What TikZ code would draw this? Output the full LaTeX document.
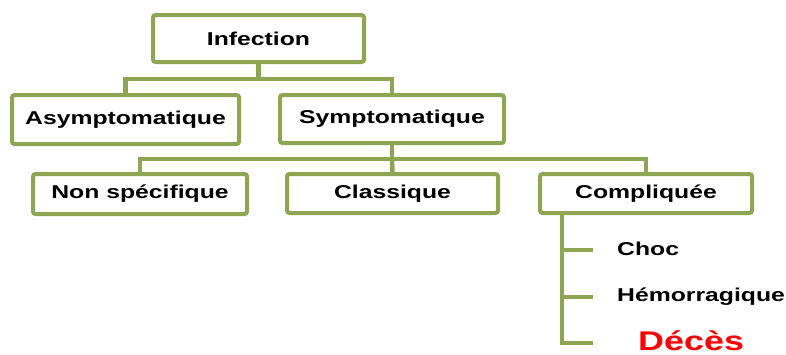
\documentclass[tikz,border=0pt]{standalone}
\usepackage{fontspec}
\setmainfont{Liberation Sans}
\newfontfamily\widefont[FakeStretch=1.33]{Liberation Sans}
\definecolor{olive}{RGB}{140,166,82}
\definecolor{deathred}{RGB}{255,0,0}
\begin{document}
\begin{tikzpicture}[x=1pt,y=-1pt,
  box/.style={draw=olive,line width=4pt,rounded corners=2.5pt,fill=white,
    inner sep=0pt,font=\widefont\bfseries\fontsize{18.6}{20}\selectfont,text=black},
  link/.style={draw=olive,line width=4.5pt},
  leaf/.style={anchor=west,inner sep=0pt,font=\widefont\bfseries\fontsize{18.6}{20}\selectfont,text=black}]
\useasboundingbox (0,0) rectangle (786,354);
% boxes
\node[box,minimum width=211pt,minimum height=47pt] (inf) at (258.5,38.5) {Infection};
\node[box,minimum width=227pt,minimum height=49pt] (asym) at (125.5,119.5) {Asymptomatique};
\node[box,minimum width=224pt,minimum height=48pt] (symp) at (392,119) {Symptomatique};
\node[box,minimum width=214pt,minimum height=40pt] (nons) at (140,194) {Non spécifique};
\node[box,minimum width=211pt,minimum height=39pt] (clas) at (392.5,193.5) {Classique};
\node[box,minimum width=212pt,minimum height=39pt] (comp) at (646,193.5) {Compliquée};
% leaves
\node[leaf] (choc) at (617,249) {Choc};
\node[leaf] (hemo) at (617,297) {Hémorragique};
\node[leaf,text=deathred,font=\widefont\bfseries\fontsize{27}{29}\selectfont] (dece) at (638,340.5) {Décès};
% level 1 connectors
\coordinate (j1) at (258.5,79);
\draw[link] (inf.south) -- (j1);
\draw[link] (j1) -| (asym.north);
\draw[link] (j1) -| (symp.north);
% level 2 connectors
\coordinate (j2) at (392,159);
\draw[link] (symp.south) -- (j2);
\draw[link] (j2) -| (nons.north);
\draw[link] (j2) -- (clas.north);
\draw[link] (j2) -| (comp.north);
% compliquee branches
\coordinate (c0) at (562,213);
\coordinate (b1) at (593,250);
\coordinate (b2) at (593,297);
\coordinate (b3) at (593,343);
\draw[link] (c0) |- (b3);
\draw[link] (c0 |- b1) -- (b1);
\draw[link] (c0 |- b2) -- (b2);
\end{tikzpicture}
\end{document}
